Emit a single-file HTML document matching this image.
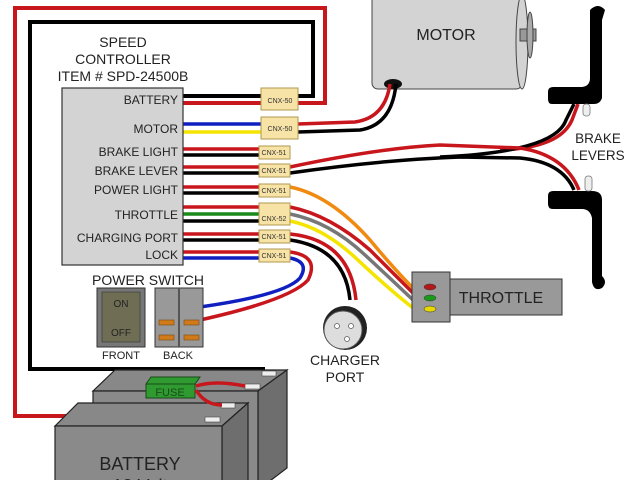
<!DOCTYPE html>
<html><head><meta charset="utf-8"><style>
html,body{margin:0;padding:0;background:#fff;width:640px;height:480px;overflow:hidden}
svg{display:block;font-family:"Liberation Sans",Arial,sans-serif}
</style></head><body>
<svg width="640" height="480" viewBox="0 0 640 480" xmlns="http://www.w3.org/2000/svg">
<!-- outer battery wires -->
<polyline points="215,416 15,416 15,8 325,8 325,103 183,103" fill="none" stroke="#c8161d" stroke-width="4"/>
<polyline points="265,369 30,369 30,22 313,22 313,96 183,96" fill="none" stroke="#000" stroke-width="4"/>

<!-- motor -->
<rect x="372" y="-5" width="150" height="94" rx="6" fill="#d3d3d3" stroke="#444" stroke-width="1"/>
<ellipse cx="522" cy="42" rx="6" ry="47" fill="#d3d3d3" stroke="#444"/>
<rect x="520" y="29" width="16" height="12" fill="#999" stroke="#444"/>
<ellipse cx="530" cy="35" rx="3" ry="23" fill="#aaa" stroke="#444"/>
<text x="446" y="40" font-size="16" text-anchor="middle" fill="#222">MOTOR</text>
<ellipse cx="393" cy="84" rx="9" ry="5" fill="#111"/>

<!-- controller wires -->
<g fill="none" stroke-width="3.5">
<line x1="183" y1="124" x2="262" y2="124" stroke="#1020c0"/>
<line x1="183" y1="132" x2="262" y2="132" stroke="#f5e400"/>
<line x1="183" y1="149" x2="260" y2="149" stroke="#c8161d"/>
<line x1="183" y1="155" x2="260" y2="155" stroke="#000"/>
<line x1="183" y1="167" x2="260" y2="167" stroke="#c8161d"/>
<line x1="183" y1="173" x2="260" y2="173" stroke="#000"/>
<line x1="183" y1="187" x2="260" y2="187" stroke="#c8161d"/>
<line x1="183" y1="193" x2="260" y2="193" stroke="#000"/>
<line x1="183" y1="207" x2="260" y2="207" stroke="#c8161d"/>
<line x1="183" y1="214" x2="260" y2="214" stroke="#1a8a1a"/>
<line x1="183" y1="221" x2="260" y2="221" stroke="#000"/>
<line x1="183" y1="234" x2="260" y2="234" stroke="#c8161d"/>
<line x1="183" y1="240" x2="260" y2="240" stroke="#000"/>
<line x1="183" y1="252" x2="260" y2="252" stroke="#c8161d"/>
<line x1="183" y1="258" x2="260" y2="258" stroke="#1020c0"/>
<!-- motor wires -->
<path d="M298,124 L355,122 Q385,118 390,84" stroke="#c8161d"/>
<path d="M298,132 L360,130 Q392,125 396,84" stroke="#000"/>
<!-- brake lever wires -->
<path d="M500,150 Q560,148 572,120 L578,104" stroke="#c8161d"/>
<path d="M440,157 Q555,152 566,120 L574,104" stroke="#000"/>
<path d="M290,167 Q380,148 440,145 L520,148 Q565,155 579,190" stroke="#c8161d"/>
<path d="M290,173 Q380,160 460,157 L520,158 Q562,162 574,190" stroke="#000"/>
<!-- throttle wires -->
<path d="M290,187 Q330,195 370,240 Q395,270 413,288" stroke="#f08a10"/>
<path d="M290,207 Q330,215 370,250 Q395,275 413,293" stroke="#c8161d"/>
<path d="M290,214 Q330,222 365,255 Q392,280 413,300" stroke="#777"/>
<path d="M290,221 Q325,228 360,262 Q390,290 413,308" stroke="#f5e400"/>
<!-- charger wires -->
<path d="M290,234 Q350,240 356,300" stroke="#c8161d"/>
<path d="M290,240 Q345,248 350,300" stroke="#000"/>
<!-- lock wires -->
<path d="M290,252 Q320,256 308,280 Q290,300 200,320" stroke="#c8161d"/>
<path d="M290,258 Q310,262 300,278 Q285,295 200,307" stroke="#1020c0"/>
</g>

<!-- controller box -->
<rect x="62" y="88" width="121" height="177" fill="#d3d3d3" stroke="#333" stroke-width="1.2"/>
<g font-size="12" text-anchor="end" fill="#222">
<text x="178" y="104">BATTERY</text>
<text x="178" y="133">MOTOR</text>
<text x="178" y="156">BRAKE LIGHT</text>
<text x="178" y="175">BRAKE LEVER</text>
<text x="178" y="194">POWER LIGHT</text>
<text x="178" y="219">THROTTLE</text>
<text x="178" y="242">CHARGING PORT</text>
<text x="178" y="259">LOCK</text>
</g>
<g font-size="14" text-anchor="middle" fill="#222">
<text x="123" y="47">SPEED</text>
<text x="123" y="64">CONTROLLER</text>
<text x="123" y="81">ITEM # SPD-24500B</text>
</g>

<!-- connectors -->
<g fill="#f7e3a6" stroke="#b09a50" stroke-width="1">
<rect x="261" y="88" width="37" height="22"/>
<rect x="261" y="117" width="37" height="22"/>
<rect x="259" y="146" width="31" height="13"/>
<rect x="259" y="164" width="31" height="13"/>
<rect x="259" y="184" width="31" height="13"/>
<rect x="259" y="203" width="31" height="22"/>
<rect x="259" y="230" width="31" height="13"/>
<rect x="259" y="249" width="31" height="13"/>
</g>
<g font-size="7" fill="#333" text-anchor="middle">
<text x="280" y="103">CNX-50</text>
<text x="280" y="131">CNX-50</text>
<text x="274" y="155">CNX-51</text>
<text x="274" y="173">CNX-51</text>
<text x="274" y="193">CNX-51</text>
<text x="274" y="221">CNX-52</text>
<text x="274" y="239">CNX-51</text>
<text x="274" y="258">CNX-51</text>
</g>

<!-- brake levers -->
<g fill="#000">
<path d="M590,10 Q598,2 605,10 L602,20 L602,98 Q600,104 594,104 L552,104 Q548,104 548,99 L548,92 Q548,87 553,87 L582,87 Q590,86 590,78 Z"/>
<path d="M553,191 L592,191 Q602,191 602,200 L602,276 Q608,282 602,288 Q594,292 592,282 L592,218 Q590,209 582,209 L553,209 Q548,209 548,204 L548,196 Q548,191 553,191 Z"/>
</g>
<g fill="#eee" stroke="#777" stroke-width="0.8">
<rect x="583" y="104" width="7" height="12" rx="3"/>
<rect x="585" y="176" width="7" height="15" rx="3"/>
</g>
<text x="598" y="143" font-size="13.5" text-anchor="middle" fill="#222">BRAKE</text>
<text x="598" y="160" font-size="13.5" text-anchor="middle" fill="#222">LEVERS</text>

<!-- throttle -->
<rect x="448" y="279" width="114" height="36" fill="#999" stroke="#333"/>
<rect x="412" y="272" width="38" height="50" fill="#999" stroke="#333"/>
<ellipse cx="430" cy="287" rx="6" ry="3" fill="#b51818" stroke="#333" stroke-width=".5"/>
<ellipse cx="430" cy="298" rx="6" ry="3" fill="#1a9a1a" stroke="#333" stroke-width=".5"/>
<ellipse cx="430" cy="309" rx="6" ry="3" fill="#e8d800" stroke="#333" stroke-width=".5"/>
<text x="501" y="303" font-size="16" text-anchor="middle" fill="#222">THROTTLE</text>

<!-- charger port -->
<circle cx="345" cy="328" r="22" fill="#222"/>
<circle cx="343" cy="330" r="19" fill="#ddd" stroke="#555"/>
<circle cx="337" cy="326" r="2.5" fill="#fff" stroke="#555" stroke-width=".7"/>
<circle cx="351" cy="326" r="2.5" fill="#fff" stroke="#555" stroke-width=".7"/>
<circle cx="347" cy="339" r="2.5" fill="#fff" stroke="#555" stroke-width=".7"/>
<text x="345" y="365" font-size="14" text-anchor="middle" fill="#222">CHARGER</text>
<text x="345" y="382" font-size="14" text-anchor="middle" fill="#222">PORT</text>

<!-- power switch -->
<text x="148" y="285" font-size="14" text-anchor="middle" fill="#222">POWER SWITCH</text>
<rect x="97" y="288" width="48" height="59" fill="#777" stroke="#333"/>
<rect x="102" y="292" width="38" height="50" fill="#6f6e55" stroke="#333" stroke-width=".6"/>
<text x="121" y="307" font-size="10" text-anchor="middle" fill="#222">ON</text>
<text x="121" y="336" font-size="10" text-anchor="middle" fill="#222">OFF</text>
<rect x="155" y="288" width="48" height="59" fill="#999" stroke="#333"/>
<line x1="179" y1="288" x2="179" y2="347" stroke="#555" stroke-width="2"/>
<g fill="#d07a1a" stroke="#7a4a10" stroke-width=".6">
<rect x="159" y="320" width="15" height="5"/><rect x="184" y="320" width="15" height="5"/>
<rect x="159" y="335" width="15" height="5"/><rect x="184" y="335" width="15" height="5"/>
</g>
<text x="121" y="359" font-size="11" text-anchor="middle" fill="#222">FRONT</text>
<text x="178" y="359" font-size="11" text-anchor="middle" fill="#222">BACK</text>

<!-- batteries -->
<g stroke="#222" stroke-width="1.2">
<polygon points="93,391 115,370 287,370 258,391" fill="#888"/>
<polygon points="258,391 287,370 287,468 258,490" fill="#6e6e6e"/>
<rect x="93" y="391" width="165" height="100" fill="#8a8a8a"/>
<polygon points="55,426 78,403 248,403 222,426" fill="#888"/>
<polygon points="222,426 248,403 248,480 222,500" fill="#6e6e6e"/>
<rect x="55" y="426" width="167" height="70" fill="#8a8a8a"/>
</g>
<!-- terminals -->
<g fill="#eee" stroke="#444" stroke-width=".6">
<rect x="262" y="371" width="14" height="5"/>
<rect x="245" y="384" width="15" height="5"/>
<rect x="221" y="403" width="14" height="5"/>
<rect x="205" y="417" width="15" height="5"/>
</g>
<polygon points="146,384 151,377 200,377 195,384" fill="#2f9a2f" stroke="#1a4a1a"/>
<rect x="146" y="384" width="49" height="14" fill="#2f9a2f" stroke="#1a4a1a"/>
<text x="170" y="396" font-size="11" text-anchor="middle" fill="#1a4a1a">FUSE</text>
<path d="M196,386 Q215,380 245,386" stroke="#c8161d" stroke-width="3.5" fill="none"/>
<path d="M196,390 Q205,405 222,405" stroke="#c8161d" stroke-width="3.5" fill="none"/>
<text x="140" y="470" font-size="18" text-anchor="middle" fill="#222">BATTERY</text>
<text x="140" y="492" font-size="18" text-anchor="middle" fill="#222">12 Volt</text>
</svg>
</body></html>
